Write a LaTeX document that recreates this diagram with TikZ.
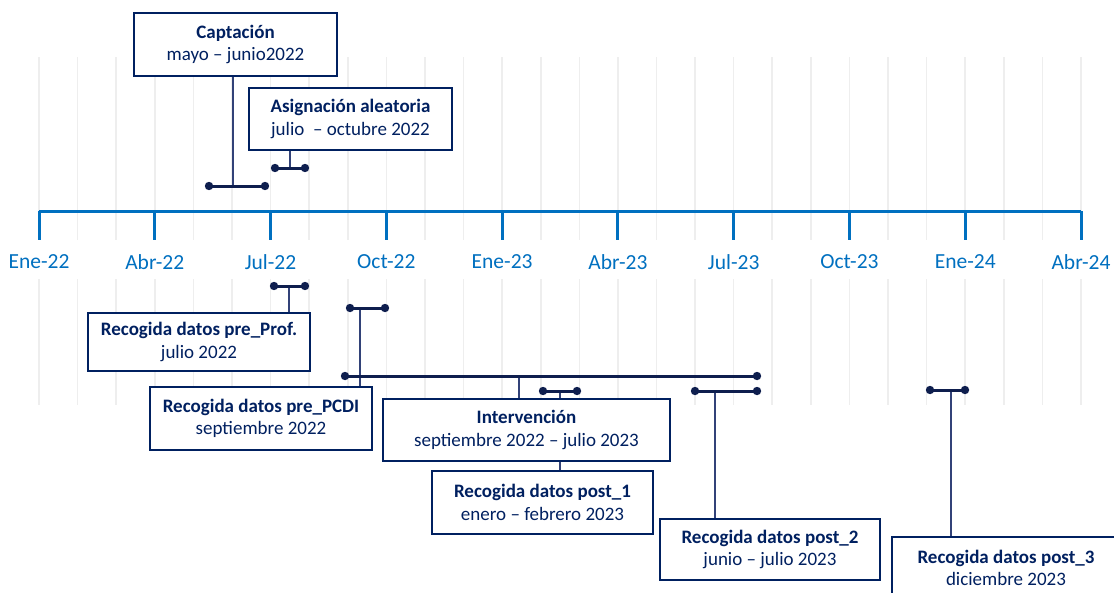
\documentclass[tikz,border=0pt]{standalone}
\usepackage{fontspec}
\setmainfont{Carlito}
\definecolor{navy}{RGB}{0,32,96}
\definecolor{barc}{RGB}{14,30,78}
\definecolor{linkc}{RGB}{50,66,120}
\definecolor{axisblue}{RGB}{0,112,192}
\definecolor{gridc}{RGB}{238,238,238}
\tikzset{
  box/.style={draw=navy, line width=2pt, fill=white, text=navy, align=center, inner sep=0pt,
    font=\fontsize{19}{22.5}\selectfont},
  bar/.style={draw=barc, line width=3pt},
  dotend/.style={fill=barc},
  link/.style={draw=linkc, line width=1.1pt},
  gridline/.style={draw=gridc, line width=1.6pt},
  axisline/.style={draw=axisblue, line width=3pt},
  ticklabel/.style={text=axisblue, font=\fontsize{21.5}{25}\selectfont},
}
\newcommand{\tlbar}[4]{% name, x1, x2, y
  \coordinate (#1a) at (#2,#4);
  \coordinate (#1b) at (#3,#4);
}
\begin{document}
\begin{tikzpicture}[x=1pt,y=-1pt]
\useasboundingbox (0,0) rectangle (1114,592);
\clip (0,0) rectangle (1114,592);
\fill[white] (0,0) rectangle (1114,592);
% grid
\foreach \k in {0,...,27}{
  \draw[gridline] ({39+\k*38.593},57) -- ({39+\k*38.593},240);
  \draw[gridline] ({39+\k*38.593},279) -- ({39+\k*38.593},405);
}
% axis
\coordinate (axl) at (39,211);
\coordinate (axr) at (1081,211);
\draw[axisline] (axl) -- (axr);
\foreach \lab [count=\i from 0] in {Ene-22,Abr-22,Jul-22,Oct-22,Ene-23,Abr-23,Jul-23,Oct-23,Ene-24,Abr-24}{
  \coordinate (t\i) at ({39+\i*115.78},211);
  \draw[axisline] (t\i) -- ++(0,29);
  \node[ticklabel] (l\i) at ({39+\i*115.78},262) {\lab};
}
% bar end points
\tlbar{capt}{209}{265}{186}
\tlbar{asig}{275}{305}{168}
\tlbar{prof}{274}{305}{286}
\tlbar{pcdi}{350}{385}{308}
\tlbar{interv}{345}{757}{376}
\tlbar{pone}{543}{577}{391}
\tlbar{ptwo}{695}{757}{391}
\tlbar{pthree}{930}{965}{390}
% connector points on bars
\coordinate (ccapt) at (233,186);
\coordinate (casig) at (290,168);
\coordinate (cprof) at (289,286);
\coordinate (cpcdi) at (360,308);
\coordinate (cinterv) at (519,376);
\coordinate (cpone) at (560,391);
\coordinate (cptwo) at (715,391);
\coordinate (cpthree) at (951,390);
% boxes
\node[box, minimum width=203pt, minimum height=63pt] (bcapt) at (235.5,44.5) {\textbf{Captación}\\mayo – junio2022};
\node[box, minimum width=203pt, minimum height=62pt] (basig) at (350.5,119) {\textbf{Asignación aleatoria}\\julio \ – octubre 2022};
\node[box, minimum width=222pt, minimum height=58pt] (bprof) at (199,342) {\textbf{Recogida datos pre\_Prof.}\\julio 2022};
\node[box, minimum width=222pt, minimum height=63pt] (bpcdi) at (261,418.5) {\textbf{Recogida datos pre\_PCDI}\\septiembre 2022};
\node[box, minimum width=221pt, minimum height=63pt] (bpone) at (542.5,502.5) {\textbf{Recogida datos post\_1}\\enero – febrero 2023};
\draw[link] (cpone) -- (cpone |- bpone.north);
\node[box, minimum width=287pt, minimum height=62pt] (binterv) at (526.5,430) {\textbf{Intervención}\\septiembre 2022 – julio 2023};
\node[box, minimum width=220pt, minimum height=61pt] (bptwo) at (770,549.5) {\textbf{Recogida datos post\_2}\\junio – julio 2023};
\node[box, minimum width=228pt, minimum height=62pt] (bpthree) at (1006,568) {\textbf{Recogida datos post\_3}\\diciembre 2023};
% connectors
\draw[link] (bcapt.south -| ccapt) -- (ccapt);
\draw[link] (basig.south -| casig) -- (casig);
\draw[link] (bprof.north -| cprof) -- (cprof);
\draw[link] (bpcdi.north -| cpcdi) -- (cpcdi);
\draw[link] (binterv.north -| cinterv) -- (cinterv);
\draw[link] (bptwo.north -| cptwo) -- (cptwo);
\draw[link] (bpthree.north -| cpthree) -- (cpthree);
% bars with dot ends
\foreach \n in {capt,asig,prof,pcdi,interv,pone,ptwo,pthree}{
  \draw[bar] (\n a) -- (\n b);
  \fill[dotend] (\n a) circle (4.2);
  \fill[dotend] (\n b) circle (4.2);
}
\end{tikzpicture}
\end{document}
